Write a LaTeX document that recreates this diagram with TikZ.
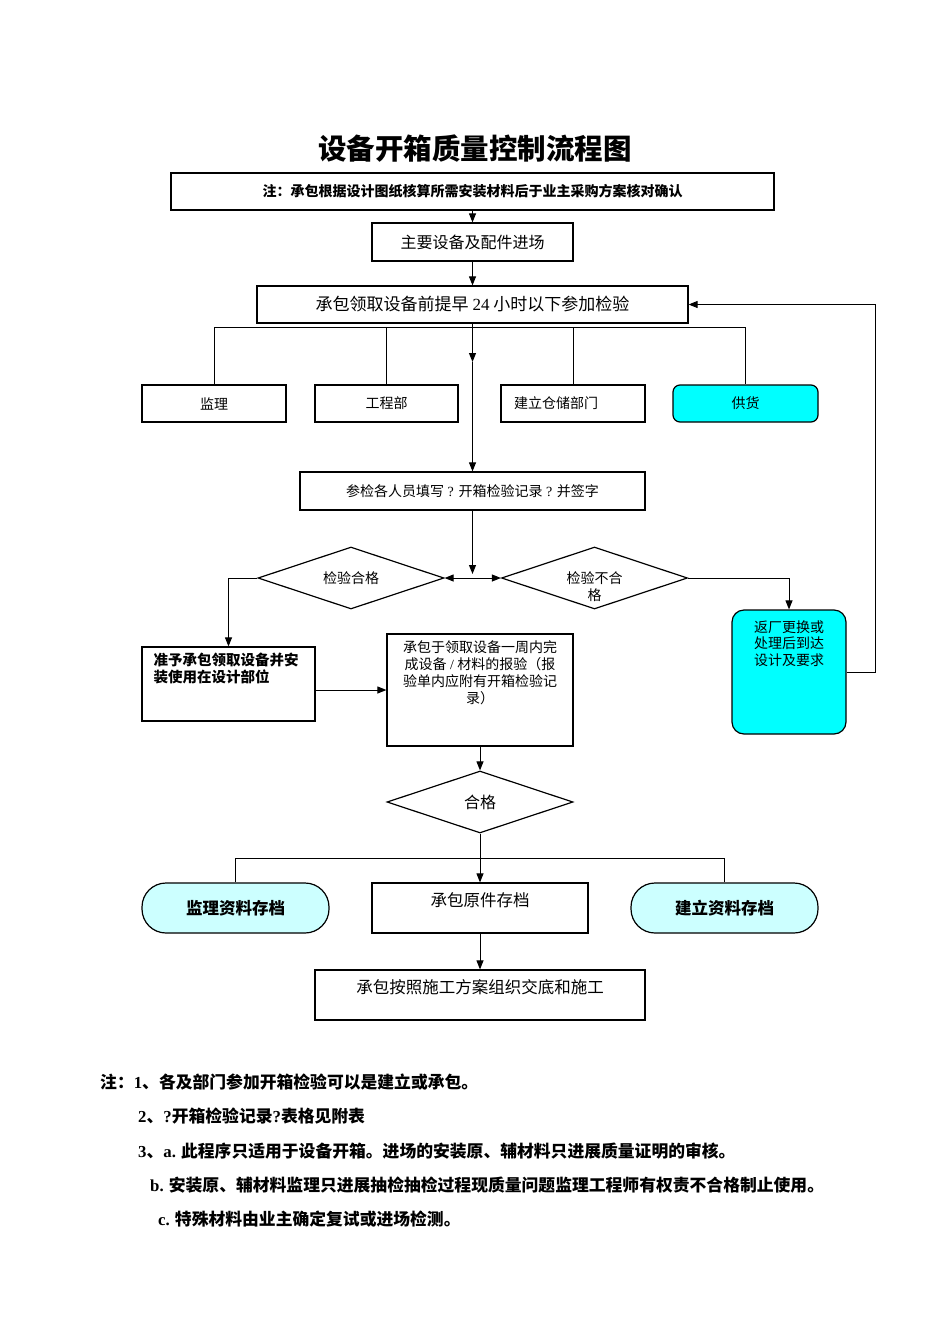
\documentclass[tikz,border=0pt]{standalone}
\usepackage{fontspec}
\setmainfont{Liberation Serif}
\newfontfamily\cjk{Noto Sans CJK SC}
\newcommand\lat[1]{{\rmfamily #1}}
\usetikzlibrary{shapes.geometric,arrows.meta}
\definecolor{supcyan}{RGB}{0,255,255}
\definecolor{palecyan}{RGB}{204,255,255}
\tikzset{
  box/.style={draw, line width=1.2pt, inner sep=0pt, font=\cjk\fontsize{14}{17}\selectfont},
  dia/.style={draw, diamond, aspect=3, line width=1.2pt, inner sep=0pt, minimum width=186pt, minimum height=62pt, font=\cjk\fontsize{14}{17}\selectfont},
  pill/.style={draw, line width=1.2pt, rounded corners=24pt, fill=palecyan, inner sep=0pt, minimum width=187pt, minimum height=50pt, font=\cjk\bfseries\fontsize{16.5}{20}\selectfont},
  lbl/.style={inner sep=0pt, font=\cjk\fontsize{14}{17}\selectfont},
  memo/.style={inner sep=0pt, anchor=base west, font=\cjk\bfseries\fontsize{16.8}{19}\selectfont},
  arr/.style={-{Triangle[length=9pt,width=7pt]}, line width=1pt},
  link/.style={line width=1pt}
}
\begin{document}
\begin{tikzpicture}[x=1pt,y=-1pt]
  \useasboundingbox (0,0) rectangle (950,1344);
  \node[font=\cjk\bfseries\fontsize{28.5}{32}\selectfont] (head) at (475,149) {设备开箱质量控制流程图};
  \node[box, minimum width=603pt, minimum height=37pt, font=\cjk\bfseries\fontsize{14}{17}\selectfont] (note) at (472.5,191.5) {注：承包根据设计图纸核算所需安装材料后于业主采购方案核对确认};
  \node[box, minimum width=201pt, minimum height=38pt, font=\cjk\fontsize{16}{19}\selectfont] (arrive) at (472.5,242) {主要设备及配件进场};
  \node[box, minimum width=431pt, minimum height=37pt, font=\cjk\fontsize{17}{20}\selectfont] (lead) at (472.5,304.5) {承包领取设备前提早 \lat{24} 小时以下参加检验};

  \node[box, minimum width=144pt, minimum height=37pt] (jl) at (214,403.5) {监理};
  \node[box, minimum width=143pt, minimum height=37pt] (gc) at (386.5,403.5) {工程部};
  \node[box, minimum width=144pt, minimum height=37pt, text width=118pt, inner xsep=13pt, align=left] (cc) at (573,403.5) {建立仓储部门};
  \node[box, fill=supcyan, rounded corners=7pt, minimum width=145pt, minimum height=37pt] (sup) at (745.5,403.5) {供货};

  \node[box, minimum width=345pt, minimum height=38pt] (fill) at (472.5,491) {参检各人员填写\lat{ ? }开箱检验记录\lat{ ? }并签字};
  \coordinate (mid) at (472.5,362);
  \coordinate (jn) at (472.5,574);

  \node[dia] (pass) at (351,578) {检验合格};
  \node[dia] (fail) at (594.5,578) {};
  \node[lbl, anchor=north, align=center] (fail-t) at ([yshift=7pt]fail.center) {检验不合\\格};

  \node[box, minimum width=173pt, minimum height=74pt] (grant) at (228.5,684) {};
  \node[lbl, anchor=north west, align=left, font=\cjk\bfseries\fontsize{14.5}{17}\selectfont] (grant-t) at ([xshift=12pt,yshift=-6pt]grant.north west) {准予承包领取设备并安\\装使用在设计部位};
  \node[box, minimum width=186pt, minimum height=112pt] (rep) at (480,690) {};
  \node[lbl, anchor=north, align=center] (rep-t) at ([yshift=-7pt]rep.north) {承包于领取设备一周内完\\成设备\lat{ / }材料的报验（报\\验单内应附有开箱检验记\\录）};
  \node[box, fill=supcyan, rounded corners=12pt, minimum width=114pt, minimum height=124pt] (ret) at (789,672) {};
  \node[lbl, anchor=north, align=center, font=\cjk\fontsize{14}{16.5}\selectfont] (ret-t) at ([yshift=-11pt]ret.north) {返厂更换或\\处理后到达\\设计及要求};

  \node[dia, font=\cjk\fontsize{16}{19}\selectfont] (ok) at (480,802) {合格};
  \node[pill] (sv) at (235.5,908) {监理资料存档};
  \node[box, minimum width=216pt, text height=23pt, text depth=27pt, font=\cjk\fontsize{16.5}{20}\selectfont] (orig) at (480,908) {承包原件存档};
  \node[pill] (bd) at (724.5,908) {建立资料存档};
  \node[box, minimum width=330pt, text height=23pt, text depth=27pt, font=\cjk\fontsize{16.5}{20}\selectfont] (exec) at (480,995) {承包按照施工方案组织交底和施工};
  \coordinate (bus1) at (472.5,327);
  \coordinate (bus2) at (480,858);

  \draw[arr] (note) -- (arrive);
  \draw[arr] (arrive) -- (lead);
  \draw[link] (jl.north) |- (sup.north |- bus1) -- (sup.north);
  \draw[link] (gc.north) -- (gc.north |- bus1);
  \draw[link] (cc.north) -- (cc.north |- bus1);
  \draw[arr] (lead.south) -- (mid);
  \draw[arr] (mid) -- (fill.north);
  \draw[arr] (fill.south) -- (jn);
  \draw[{Triangle[length=9pt,width=7pt]}-{Triangle[length=9pt,width=7pt]}, line width=1pt] (pass.east) -- (fail.west);
  \draw[arr] (pass.west) -| (grant.north);
  \draw[arr] (grant.east |- rep.west) -- (rep.west);
  \draw[arr] (fail.east) -| (ret.north);
  \draw[arr] (ret.east) -- ++(29,0) |- (lead.east);
  \draw[arr] (rep.south) -- (ok.north);
  \draw[arr] (ok.south) -- (orig.north);
  \draw[link] (sv.north) |- (bd.north |- bus2) -- (bd.north);
  \draw[arr] (orig.south) -- (exec.north);

  \node[memo] (n1) at (100,1088) {注：\lat{1}、各及部门参加开箱检验可以是建立或承包。};
  \node[memo] (n2) at (138,1122) {\lat{2}、\lat{?}开箱检验记录\lat{?}表格见附表};
  \node[memo] (n3) at (138,1157) {\lat{3}、\lat{a.} 此程序只适用于设备开箱。进场的安装原、辅材料只进展质量证明的审核。};
  \node[memo] (n4) at (150,1191) {\lat{b.} 安装原、辅材料监理只进展抽检抽检过程现质量问题监理工程师有权责不合格制止使用。};
  \node[memo] (n5) at (158,1225) {\lat{c.} 特殊材料由业主确定复试或进场检测。};
\end{tikzpicture}
\end{document}
